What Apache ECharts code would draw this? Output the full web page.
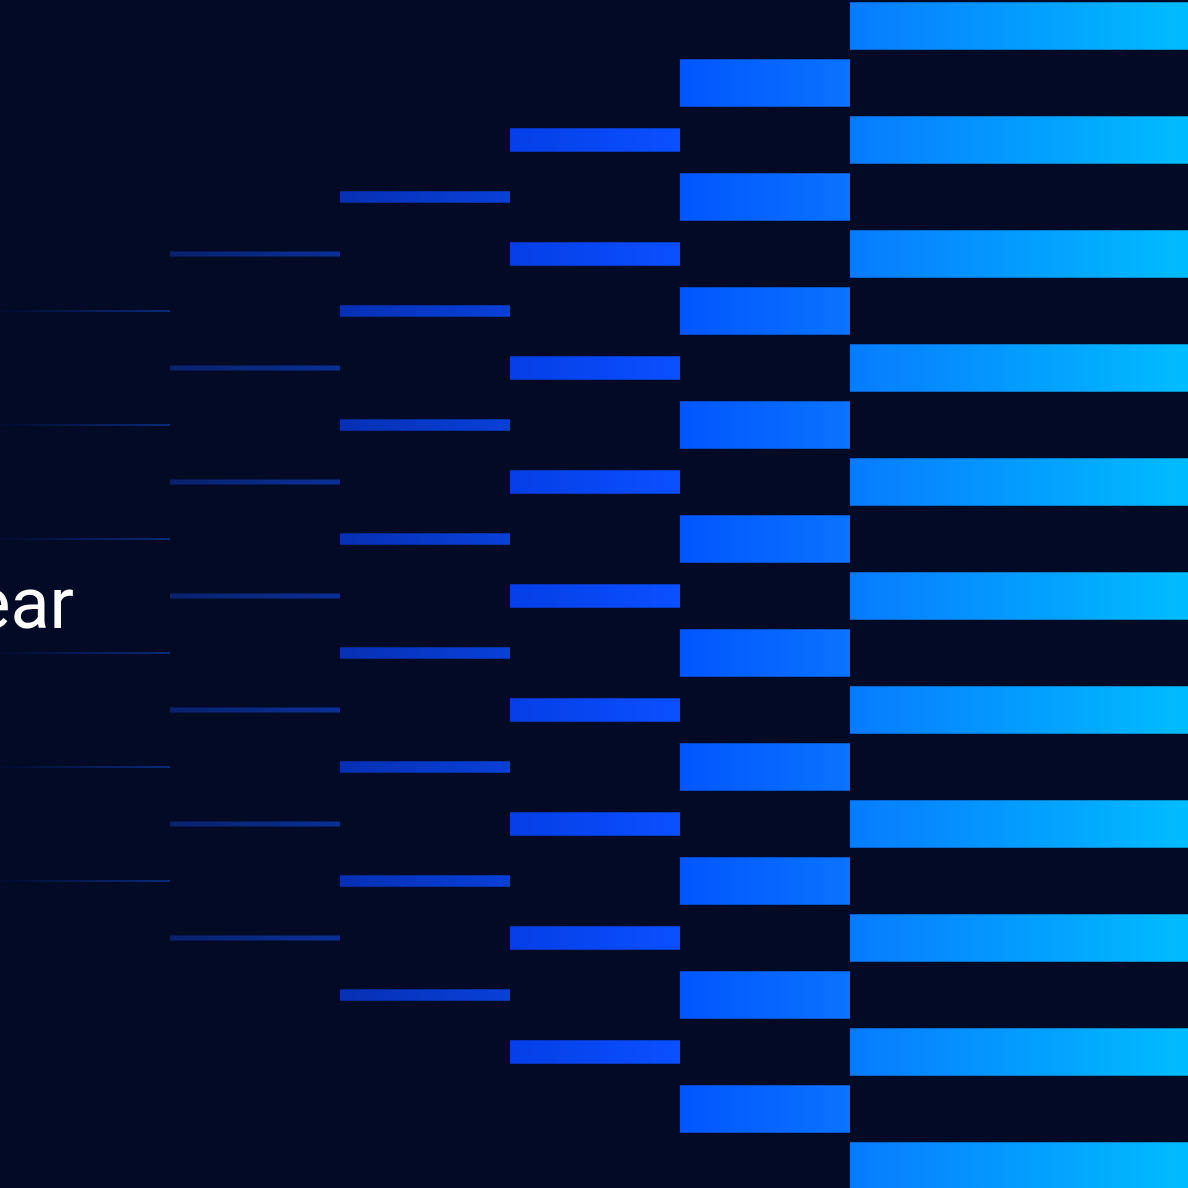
<!DOCTYPE html>
<html>
<head>
<meta charset="utf-8">
<script src="https://cdn.jsdelivr.net/npm/echarts@6/dist/echarts.min.js"></script>
<style>
  html, body { margin: 0; padding: 0; background: #020a25; }
  #main { width: 1188px; height: 1188px; }
</style>
</head>
<body>
<div id="main"></div>
<script>
// columns, left to right
var colStart = [0, 1, 2, 3, 4, 5];
var colEnd = [1, 2, 3, 4, 5, 7];
// which rows each column has a bar on
var colRows = [
	[5, 7, 9, 11, 13, 15],
	[4, 6, 8, 10, 12, 14, 16],
	[3, 5, 7, 9, 11, 13, 15, 17],
	[2, 4, 6, 8, 10, 12, 14, 16, 18],
	[1, 3, 5, 7, 9, 11, 13, 15, 17, 19],
	[0, 2, 4, 6, 8, 10, 12, 14, 16, 18, 20]
];
// bar thickness (row units) per column
var colWeight = [0.035, 0.09, 0.2, 0.41, 0.83, 0.83];
var colFrom = ['#020b2c', '#08226e', '#0630b4', '#053ee6', '#0056ff', '#077bff'];
var colTo = ['#0a2a7c', '#0b2f96', '#0840d8', '#0a50ff', '#0a73ff', '#00bdff'];
var label = 'ear';

var data = [];
for (var i = 0; i < colStart.length; i++) {
	for (var j = 0; j < colRows[i].length; j++) {
		data.push([colStart[i], colEnd[i], colRows[i][j], colWeight[i], i]);
	}
}

function renderBar(params, api) {
	var p0 = api.coord([api.value(0), api.value(2)]);
	var p1 = api.coord([api.value(1), api.value(2)]);
	var h = api.size([0, api.value(3)])[1];
	var c = api.value(4);
	return {
		type: 'rect',
		shape: { x: p0[0], y: p0[1] - h / 2, width: p1[0] - p0[0], height: h },
		style: {
			fill: new echarts.graphic.LinearGradient(0, 0, 1, 0, [
				{ offset: 0, color: colFrom[c] },
				{ offset: 1, color: colTo[c] }
			])
		}
	};
}

var chart = echarts.init(document.getElementById('main'));
chart.setOption({
	backgroundColor: '#020a25',
	animation: false,
	grid: { left: 0, right: 0, top: 0, bottom: 0 },
	xAxis: { type: 'value', min: 0, max: 6.988, show: false },
	yAxis: { type: 'value', min: -0.456, max: 20.386, inverse: true, show: false },
	graphic: [{
		type: 'text',
		right: 1188 - 74,
		top: 574,
		style: {
			text: label,
			fill: '#ffffff',
			font: '400 72px Roboto'
		}
	}],
	series: [{
		type: 'custom',
		renderItem: renderBar,
		data: data,
		silent: true
	}]
});
</script>
</body>
</html>
